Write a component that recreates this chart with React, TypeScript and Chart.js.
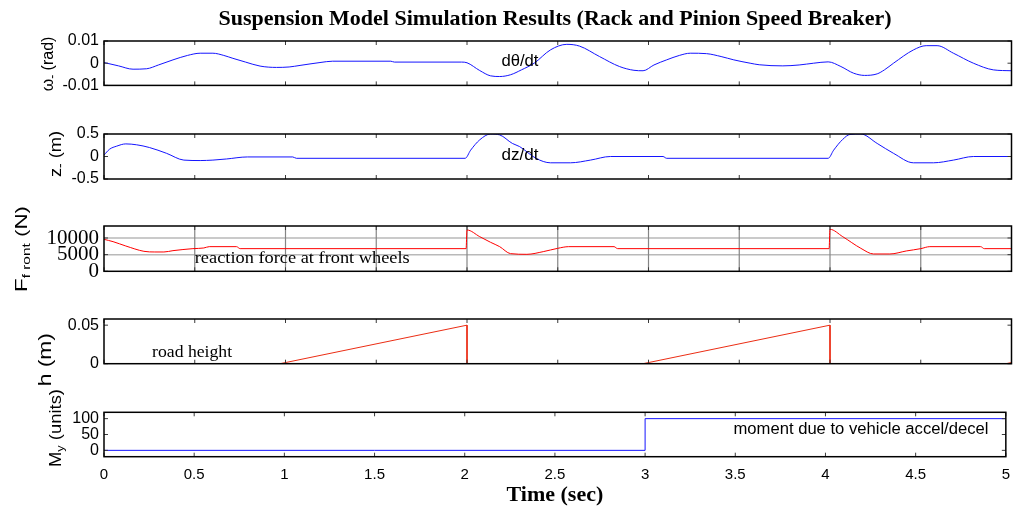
import { useEffect, useRef } from 'react';
import { Chart, registerables } from 'chart.js';
Chart.register(...registerables);

const SANS = '"Liberation Sans", Arial, Helvetica, sans-serif';
const SERIF = '"Liberation Serif", "Times New Roman", Times, serif';

const TITLE = 'Suspension Model Simulation Results (Rack and Pinion Speed Breaker)';
const X_TITLE = 'Time (sec)';
const X_TICKS = [0, 0.5, 1, 1.5, 2, 2.5, 3, 3.5, 4, 4.5, 5];
const X_TICK_LABELS = ['0', '0.5', '1', '1.5', '2', '2.5', '3', '3.5', '4', '4.5', '5'];

// Panel 1: dθ/dt
const THETA_T = [0, 0.08, 0.16, 0.235, 0.3, 0.38, 0.46, 0.53, 0.6, 0.66, 0.71, 0.78, 0.86, 0.95, 1.02, 1.08, 1.19, 1.26, 1.58, 1.6, 1.97, 2.0, 2.07, 2.13, 2.18, 2.24, 2.3, 2.37, 2.46, 2.55, 2.62, 2.73, 2.84, 2.92, 2.97, 3.03, 3.1, 3.17, 3.23, 3.32, 3.4, 3.47, 3.56, 3.61, 3.74, 3.83, 3.91, 3.99, 4.06, 4.13, 4.19, 4.26, 4.3, 4.35, 4.46, 4.53, 4.59, 4.68, 4.79, 4.9, 5.0];
const THETA_V = [0.0003, -0.0012, -0.0027, -0.0025, -0.0008, 0.0015, 0.0035, 0.0045, 0.0045, 0.0035, 0.0022, 0.0005, -0.0013, -0.0019, -0.0017, -0.001, 0.0003, 0.0009, 0.0009, 0.0005, 0.0005, 0.0002, -0.0033, -0.0057, -0.006, -0.0052, -0.003, 0.0, 0.006, 0.0085, 0.0077, 0.003, -0.0015, -0.0032, -0.0034, -0.0008, 0.0015, 0.0035, 0.0045, 0.0043, 0.003, 0.0015, 0.0, -0.0007, -0.0012, -0.0008, 0.0, 0.0006, -0.0015, -0.0045, -0.0055, -0.0048, -0.003, 0.0, 0.006, 0.0079, 0.0079, 0.0045, 0.0, -0.003, -0.0034];
const THETA_TICKS = [-0.01, 0, 0.01];
const THETA_TICK_LABELS = ['-0.01', '0', '0.01'];

// Panel 2: dz/dt
const Z_T = [0, 0.03, 0.07, 0.12, 0.18, 0.25, 0.345, 0.44, 0.53, 0.6, 0.675, 0.79, 1.04, 1.06, 1.99, 2.02, 2.07, 2.13, 2.18, 2.25, 2.29, 2.38, 2.46, 2.57, 2.68, 2.79, 3.08, 3.1, 3.99, 4.02, 4.07, 4.11, 4.17, 4.26, 4.35, 4.46, 4.57, 4.68, 4.79, 5.0];
const Z_V = [0.03, 0.16, 0.23, 0.28, 0.26, 0.2, 0.07, -0.08, -0.09, -0.08, -0.055, -0.01, -0.01, -0.04, -0.04, 0.14, 0.37, 0.5, 0.48, 0.29, 0.22, -0.04, -0.14, -0.14, -0.08, 0.0, 0.0, -0.04, -0.04, 0.14, 0.38, 0.49, 0.5, 0.29, 0.07, -0.14, -0.14, -0.08, 0.0, 0.0];
const Z_TICKS = [-0.5, 0, 0.5];
const Z_TICK_LABELS = ['-0.5', '0', '0.5'];

// Panel 3: front reaction force
const F_T = [0, 0.05, 0.12, 0.22, 0.28, 0.33, 0.38, 0.49, 0.55, 0.58, 0.73, 0.75, 1.995, 2.0, 2.07, 2.13, 2.18, 2.24, 2.33, 2.42, 2.5, 2.56, 2.81, 2.83, 3.995, 4.0, 4.07, 4.17, 4.24, 4.33, 4.42, 4.5, 4.55, 4.83, 4.85, 5.0];
const F_V = [9600, 8900, 7600, 6000, 5800, 5800, 6200, 6800, 7000, 7400, 7400, 6800, 6800, 12400, 10400, 8700, 7400, 5300, 5100, 5900, 6900, 7400, 7400, 6800, 6800, 12600, 10400, 6900, 5200, 5200, 6100, 6800, 7400, 7400, 6800, 6800];
const F_TICKS = [0, 5000, 10000];
const F_TICK_LABELS = ['0', '5000', '10000'];
const F_GRID = [5000, 10000];

// Panel 4: road height
const H_T = [0, 0.97, 2.0, 2.0, 2.97, 4.0, 4.0, 4.97, 5.0];
const H_V = [0, 0, 0.05, 0, 0, 0.05, 0, 0, 0.0015];
const H_TICKS = [0, 0.05];
const H_TICK_LABELS = ['0', '0.05'];

// Panel 5: moment
const M_T = [0, 3.0, 3.0, 5.0];
const M_V = [0, 0, 100, 100];
const M_TICKS = [0, 50, 100];
const M_TICK_LABELS = ['0', '50', '100'];

type Piece = { t: string; size: number; dy?: number };
type Note = { text: string; x: number; y: number; font: string; len: number };
type PanelCfg = {
  top: number; h: number; w: number;
  pad: { top: number; right: number; bottom: number; left: number };
  rightWidth: number;
  xs: number[]; ys: number[]; color: string; smooth: boolean;
  ymin: number; ymax: number; yTicks: number[]; yLabels: string[]; yFont: string; ySize: number;
  gridY?: number[]; gridX?: boolean;
  label: Piece[]; labelX: number; labelY: number; labelLen: number;
  notes: Note[];
  title?: boolean; xAxis?: boolean;
};

const PANELS: PanelCfg[] = [
  {
    top: 0, h: 100, w: 1110, pad: { top: 0, right: 0, bottom: 14.3, left: 0 }, rightWidth: 98.5,
    xs: THETA_T, ys: THETA_V, color: 'rgb(20,20,255)', smooth: true,
    ymin: -0.01, ymax: 0.01, yTicks: THETA_TICKS, yLabels: THETA_TICK_LABELS, yFont: SANS, ySize: 16,
    label: [{ t: 'ω', size: 16 }, { t: '-', size: 12, dy: 3 }, { t: ' (rad)', size: 16 }], labelX: 53, labelY: 64, labelLen: 0,
    notes: [{ text: 'dθ/dt', x: 2.19, y: 0.0006, font: `16px ${SANS}`, len: 37 }],
    title: true,
  },
  {
    top: 109, h: 95, w: 1019, pad: { top: 25, right: 0, bottom: 25, left: 0 }, rightWidth: 7.5,
    xs: Z_T, ys: Z_V, color: 'rgb(20,20,255)', smooth: true,
    ymin: -0.5, ymax: 0.5, yTicks: Z_TICKS, yLabels: Z_TICK_LABELS, yFont: SANS, ySize: 16,
    label: [{ t: 'z', size: 16 }, { t: '-', size: 12, dy: 3 }, { t: ' (m)', size: 16 }], labelX: 61, labelY: 154, labelLen: 46,
    notes: [{ text: 'dz/dt', x: 2.19, y: 0.01, font: `16px ${SANS}`, len: 37 }],
  },
  {
    top: 201, h: 95, w: 1019, pad: { top: 25, right: 0, bottom: 24.7, left: 0 }, rightWidth: 7.5,
    xs: F_T, ys: F_V, color: 'rgb(255,0,0)', smooth: true,
    ymin: 0, ymax: 13600, yTicks: F_TICKS, yLabels: F_TICK_LABELS, yFont: SERIF, ySize: 21,
    gridY: F_GRID, gridX: true,
    label: [{ t: 'F', size: 16 }, { t: 'f ront', size: 11, dy: 3 }, { t: ' (N)', size: 16 }], labelX: 27, labelY: 249, labelLen: 86,
    notes: [{ text: 'reaction force at front wheels', x: 0.5, y: 3900, font: `17px ${SERIF}`, len: 215 }],
  },
  {
    top: 294.3, h: 95, w: 1019, pad: { top: 25, right: 0, bottom: 25.3, left: 0 }, rightWidth: 7.5,
    xs: H_T, ys: H_V, color: 'rgb(235,45,20)', smooth: false,
    ymin: 0, ymax: 0.058, yTicks: H_TICKS, yLabels: H_TICK_LABELS, yFont: SANS, ySize: 16,
    label: [{ t: 'h (m)', size: 19 }], labelX: 51, labelY: 360, labelLen: 53,
    notes: [{ text: 'road height', x: 0.265, y: 0.0143, font: `17px ${SERIF}`, len: 80 }],
  },
  {
    top: 385, h: 126, w: 1019, pad: { top: 27.3, right: 0, bottom: 0.6, left: 0 }, rightWidth: 7.5,
    xs: M_T, ys: M_V, color: 'rgb(20,20,255)', smooth: false,
    ymin: -20, ymax: 120, yTicks: M_TICKS, yLabels: M_TICK_LABELS, yFont: SANS, ySize: 16,
    label: [{ t: 'M', size: 16 }, { t: 'y', size: 11, dy: 3 }, { t: ' (units)', size: 16 }], labelX: 61, labelY: 428, labelLen: 78,
    notes: [{ text: 'moment due to vehicle accel/decel', x: 3.49, y: 66, font: `16px ${SANS}`, len: 255 }],
    xAxis: true,
  },
];

function makePlugin(p: PanelCfg) {
  return {
    id: 'matlabAxes',
    beforeDatasetsDraw(chart: any) {
      const { ctx, chartArea: a, scales } = chart;
      const x = scales.x, y = scales.y;
      ctx.save();
      if (p.gridY) {
        ctx.strokeStyle = '#b9b9b9';
        ctx.lineWidth = 1.5;
        for (const v of p.gridY) {
          const py = y.getPixelForValue(v);
          ctx.beginPath(); ctx.moveTo(a.left, py); ctx.lineTo(a.right, py); ctx.stroke();
        }
      }
      if (p.gridX) {
        ctx.strokeStyle = '#858585';
        ctx.lineWidth = 1.2;
        for (const v of X_TICKS) {
          if (v <= 0 || v >= 5) continue;
          const px = x.getPixelForValue(v);
          ctx.beginPath(); ctx.moveTo(px, a.top); ctx.lineTo(px, a.bottom); ctx.stroke();
        }
      }
      ctx.restore();
    },
    afterDatasetsDraw(chart: any) {
      const { ctx, chartArea: a, scales } = chart;
      const x = scales.x, y = scales.y;
      ctx.save();
      ctx.strokeStyle = '#3a3a3a';
      ctx.lineWidth = 1;
      const tl = 4;
      for (const v of X_TICKS) {
        const px = x.getPixelForValue(v);
        ctx.beginPath();
        ctx.moveTo(px, a.top); ctx.lineTo(px, a.top + tl);
        ctx.moveTo(px, a.bottom); ctx.lineTo(px, a.bottom - tl);
        ctx.stroke();
      }
      for (const v of p.yTicks) {
        const py = y.getPixelForValue(v);
        ctx.beginPath();
        ctx.moveTo(a.left, py); ctx.lineTo(a.left + tl, py);
        ctx.moveTo(a.right, py); ctx.lineTo(a.right - tl, py);
        ctx.stroke();
      }
      ctx.strokeStyle = '#000';
      ctx.lineWidth = 1.5;
      ctx.strokeRect(a.left, a.top, a.right - a.left, a.bottom - a.top);
      ctx.restore();
    },
    afterDraw(chart: any) {
      const { ctx, scales } = chart;
      const x = scales.x, y = scales.y;
      ctx.save();
      ctx.fillStyle = '#000';
      ctx.textAlign = 'left';
      ctx.textBaseline = 'middle';
      for (const n of p.notes) {
        ctx.save();
        ctx.font = n.font;
        const w = ctx.measureText(n.text).width;
        const px = x.getPixelForValue(n.x);
        const py = y.getPixelForValue(n.y);
        ctx.translate(px, py);
        ctx.scale(n.len / w, 1);
        ctx.fillText(n.text, 0, 0);
        ctx.restore();
      }
      // rotated y label
      ctx.translate(p.labelX, p.labelY - p.top);
      ctx.rotate(-Math.PI / 2);
      ctx.textBaseline = 'alphabetic';
      let total = 0;
      const widths = p.label.map((pc) => {
        ctx.font = `${pc.size}px ${SANS}`;
        const w = ctx.measureText(pc.t).width;
        total += w;
        return w;
      });
      const sx = p.labelLen > 0 ? p.labelLen / total : 1;
      ctx.scale(sx, 1);
      let cx = -total / 2;
      p.label.forEach((pc, i) => {
        ctx.font = `${pc.size}px ${SANS}`;
        ctx.fillText(pc.t, cx, pc.dy || 0);
        cx += widths[i];
      });
      ctx.restore();
    },
  };
}

function buildConfig(p: PanelCfg): any {
  const data = p.xs.map((t, i) => ({ x: t, y: p.ys[i] }));
  const yTicks = p.yTicks;
  const yLabels = p.yLabels;
  return {
    type: 'line',
    data: {
      datasets: [{
        data,
        borderColor: p.color,
        borderWidth: 1,
        pointRadius: 0,
        fill: false,
        cubicInterpolationMode: p.smooth ? 'monotone' : 'default',
        tension: 0,
        yAxisID: 'y',
      }],
    },
    options: {
      animation: false,
      responsive: false,
      devicePixelRatio: 1,
      layout: { padding: p.pad },
      plugins: {
        legend: { display: false },
        tooltip: { enabled: false },
        title: p.title ? {
          display: true,
          text: TITLE,
          color: '#000',
          font: { family: SERIF, size: 22, weight: 'bold', lineHeight: 1.2 },
          padding: { top: 6.5, bottom: 8.1 },
        } : { display: false },
      },
      scales: {
        x: {
          type: 'linear',
          min: 0,
          max: 5,
          display: !!p.xAxis,
          position: 'bottom',
          grid: { display: false, drawTicks: false, tickLength: 0 },
          border: { display: false },
          afterBuildTicks: (s: any) => { s.ticks = X_TICKS.map((v) => ({ value: v })); },
          afterFit: (s: any) => { if (p.xAxis) s.height = 53.7; },
          ticks: {
            autoSkip: false,
            maxRotation: 0,
            padding: 9,
            color: '#000',
            font: { family: SANS, size: 15, lineHeight: 1.2 },
            callback: (_v: any, i: number) => X_TICK_LABELS[i],
          },
          title: {
            display: !!p.xAxis,
            text: X_TITLE,
            color: '#000',
            font: { family: SERIF, size: 22, weight: 'bold', lineHeight: 1.2 },
            padding: { top: 0, bottom: 2.2 },
          },
        },
        y: {
          type: 'linear',
          min: p.ymin,
          max: p.ymax,
          position: 'left',
          grid: { display: false, drawTicks: false, tickLength: 0 },
          border: { display: false },
          afterBuildTicks: (s: any) => { s.ticks = yTicks.map((v) => ({ value: v })); },
          afterFit: (s: any) => { s.width = 104; },
          ticks: {
            autoSkip: false,
            padding: 5,
            color: '#000',
            font: { family: p.yFont, size: p.ySize, lineHeight: 1.2 },
            callback: (_v: any, i: number) => yLabels[i],
          },
        },
        yRight: {
          type: 'linear',
          min: p.ymin,
          max: p.ymax,
          position: 'right',
          display: true,
          grid: { display: false, drawTicks: false, tickLength: 0 },
          border: { display: false },
          ticks: { display: false },
          afterFit: (s: any) => { s.width = p.rightWidth; },
        },
      },
    },
    plugins: [makePlugin(p)],
  };
}

export default function App() {
  const r0 = useRef<HTMLCanvasElement>(null);
  const r1 = useRef<HTMLCanvasElement>(null);
  const r2 = useRef<HTMLCanvasElement>(null);
  const r3 = useRef<HTMLCanvasElement>(null);
  const r4 = useRef<HTMLCanvasElement>(null);
  const refs = [r0, r1, r2, r3, r4];
  useEffect(() => {
    const charts = PANELS.map((p, i) => new Chart(refs[i].current as HTMLCanvasElement, buildConfig(p)));
    return () => { charts.forEach((c) => c.destroy()); };
  }, []);
  return (
    <div style={{ position: 'fixed', left: 0, top: 0, width: 1019, height: 511, overflow: 'hidden', background: '#fff' }}>
      {PANELS.map((p, i) => (
        <canvas
          key={i}
          ref={refs[i]}
          width={p.w}
          height={p.h}
          style={{ position: 'absolute', left: 0, top: p.top, width: p.w, height: p.h }}
        />
      ))}
    </div>
  );
}
